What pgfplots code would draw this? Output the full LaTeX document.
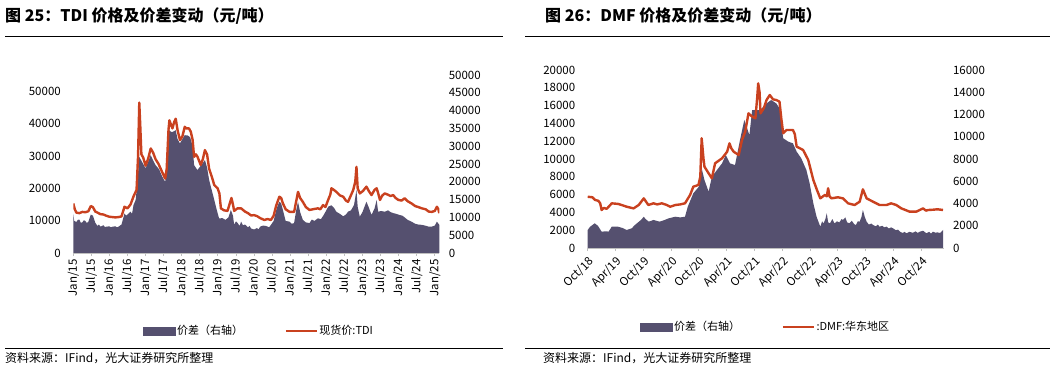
\documentclass[border=0pt]{standalone}
\usepackage{fontspec}
\setmainfont{Noto Sans CJK SC}
\usepackage{pgfplots}
\pgfplotsset{compat=1.18}
\definecolor{areac}{HTML}{55506F}
\definecolor{redc}{HTML}{C9411F}
\definecolor{axgray}{HTML}{BFBFBF}
\newcommand\fs[1]{\fontsize{#1}{#1}\selectfont}
\pgfplotsset{
  base/.style={scale only axis, height=178pt, ymin=0,
    /pgf/number format/assume math mode=true,
    /pgf/number format/1000 sep={}, scaled y ticks=false,
    tick label style={font=\fs{11.5}}, axis line style={-}},
  arealayer/.style={base, axis x line=none, axis y line*=right,
    y axis line style={draw=none}, ytick style={draw=none},
    yticklabel style={xshift=6pt}},
  linelayer/.style={base, axis x line*=bottom, axis y line*=left,
    y axis line style={draw=none}, ytick style={draw=none},
    yticklabel style={xshift=-6pt},
    x axis line style={axgray, line width=1pt},
    xtick style={axgray, line width=0.8pt}, tick align=outside, major tick length=3pt,
    legend columns=2,
    legend style={draw=none, fill=none, inner sep=0pt, font=\fs{11},
      nodes={inner sep=1.5pt}, /tikz/every even column/.append style={column sep=40pt}}},
}
\begin{document}
\begin{tikzpicture}[x=1pt,y=1pt]
\path[use as bounding box] (0pt,0pt) rectangle (1054pt,370pt);
% ---------- left chart frame ----------
\node[anchor=west, font=\fs{16}\bfseries, inner sep=0pt] at (5pt,354pt) {图 25：TDI 价格及价差变动（元/吨）};
\draw[line width=1pt] (5pt,333pt) -- (503pt,333pt);
\draw[line width=1pt] (5pt,21.7pt) -- (503pt,21.7pt);
\node[anchor=west, font=\fs{12}, inner sep=0pt] at (5pt,12pt) {资料来源：IFind，光大证券研究所整理};
% ---------- right chart frame ----------
\node[anchor=west, font=\fs{16}\bfseries, inner sep=0pt] at (545pt,354pt) {图 26：DMF 价格及价差变动（元/吨）};
\draw[line width=1pt] (525pt,333pt) -- (1050pt,333pt);
\draw[line width=1pt] (525pt,21.7pt) -- (1050pt,21.7pt);
\node[anchor=west, font=\fs{12}, inner sep=0pt] at (543pt,12pt) {资料来源：IFind，光大证券研究所整理};

% ---------- TDI spread (right axis) ----------
\begin{axis}[arealayer, at={(73.3pt,117pt)}, anchor=south west, width=366pt,
  xmin=0, xmax=121.5, ymax=50000, ytick={0,5000,...,50000}]
\addplot[fill=areac, draw=none] table {
m v
0 11000
0.3 9000
1 8700
1.5 9300
2 9400
2.5 8500
3 8600
3.5 9200
4 9000
4.5 8400
5 8800
5.8 10800
6.5 10500
7.3 8500
8 7600
8.5 8000
9 7400
10 7800
10.5 7300
11 7400
12 7500
12.5 7200
13 7400
14 7500
14.5 7200
15 7400
16 8000
17 11100
17.5 10500
18 10800
19 11600
19.5 11000
20 13500
20.7 14900
21.3 20000
21.9 27000
22.5 26100
23.2 25000
24 23800
24.8 25500
25.7 27500
26.5 26000
27.3 24700
28.5 23500
29.5 21500
30.5 20000
31.2 25000
31.8 34500
32.5 34000
33 34000
34 34500
34.6 32000
35.4 30800
36.2 32000
37 33100
38 33000
38.8 32500
39.6 30000
40.1 24700
41.2 23300
42.3 24500
43.7 26100
44.4 24000
45.1 20500
46 17500
46.8 14900
47.5 12500
48.4 9700
49.5 9800
50.5 9300
51.5 10000
52.3 12100
53 10500
53.4 7900
54 8900
54.5 8500
55.2 7600
55.7 8800
56.3 7800
57 8000
58 7200
58.5 7600
59 6900
60 6600
61 7000
61.5 6600
62 7400
63 7700
64 7600
65 7200
65.6 7900
66.5 9000
67.5 12500
68.4 14400
69 14000
69.6 12000
70.5 9000
71.8 8800
72.5 8200
73.3 8400
74 12000
74.6 14400
75.3 11500
76.2 9300
77.2 8600
78.4 8400
79.2 9400
80 9000
81.2 9750
82.2 9500
83 10500
84 12000
84.6 13000
85.7 13400
86.7 12500
87.3 11600
88.5 11000
89.6 10300
90.5 10800
91.2 11600
92.2 12000
93.2 13500
94 17700
94.4 13000
95.1 10200
96 11500
97.3 14400
98 13000
99 10700
100 12500
100.7 14900
101.2 11600
102.2 11800
103.4 11600
104.5 12000
105.3 11500
106.2 11200
107.2 11000
108.2 10700
109.2 10500
110 10000
111 9300
112.3 8800
113.5 8200
114.5 8000
115.7 7900
116.8 7700
118 7400
119 7400
120 7700
120.7 8800
121.5 7900
} \closedcycle;
\end{axis}

% ---------- TDI price (left axis) ----------
\begin{axis}[linelayer, at={(73.3pt,117pt)}, anchor=south west, width=366pt,
  xmin=0, xmax=121.5, ymax=55000, ytick={0,10000,...,50000},
  xtick={0,6,...,120},
  xticklabels={Jan/15,Jul/15,Jan/16,Jul/16,Jan/17,Jul/17,Jan/18,Jul/18,Jan/19,Jul/19,Jan/20,Jul/20,Jan/21,Jul/21,Jan/22,Jul/22,Jan/23,Jul/23,Jan/24,Jul/24,Jan/25},
  xticklabel style={rotate=90, anchor=east},
  legend style={at={(0.1904,-0.438)}, anchor=west}]
\addlegendimage{legend image code/.code={\fill[areac] (0pt,-4pt) rectangle (32pt,4pt);}}
\addlegendentry{价差（右轴）}
\addplot[redc, line width=2.4pt, line join=round,
  legend image code/.code={\draw[redc, line width=2.4pt] (0pt,0pt) -- (31pt,0pt);}] table {
m v
0 15300
0.5 13500
1 12500
2 12300
3 12700
4 12600
5 12900
5.8 14500
6.5 14200
7.3 12800
8 12500
9 12000
10 11900
11 11500
12 11200
13 11100
14 11000
15 11100
16 11300
17 14300
18 13800
19 15000
20 17500
21 19500
21.5 30000
21.9 46500
22.2 40000
22.6 30500
23.2 29500
24 27000
24.8 29000
25.7 32300
26.5 31000
27.3 29000
28.3 27500
29.5 25000
30.5 23000
31 26000
31.6 38000
31.9 41000
32.5 39500
32.9 38500
33.5 40500
34 41500
34.6 38000
35.4 34900
36.2 36000
37 39000
37.5 38500
38.4 38500
39 37500
39.6 35000
40.1 29700
40.7 30500
41.2 29800
42.3 27200
43 29000
43.7 31800
44.4 30500
45.1 26000
46 23500
46.8 21000
47.9 20000
48.5 18400
49 13800
50 13200
51.2 13000
52 15500
52.5 17000
53 15000
53.4 13000
54.5 13800
55.7 13800
57 12800
58 12300
59 11600
60 11700
61 11400
62 10800
63.4 10200
64.5 10500
65.6 10200
66.5 11500
67.3 14500
68.4 17400
69 17000
69.6 15300
70.5 13500
71.8 12700
73.3 12700
74 16000
74.6 18900
75.3 17000
76.2 15800
77.2 14200
78.4 13300
80 13600
81.2 13800
82 13500
82.9 14800
83.7 14200
84.6 16400
85.3 18000
85.7 20000
86.5 19500
87.3 18900
88.5 17800
89.6 17400
90.5 16200
91.2 15800
92 17500
92.9 19400
93.6 22000
94 26600
94.4 20000
95.1 18400
96.2 19200
97.3 20500
98.2 19000
99 17900
100 19500
100.7 20000
101.2 18500
101.8 16400
102.6 17800
103.4 18400
104.5 18000
105.3 17600
106.2 17900
107 17000
107.9 16400
109 16200
110 16900
111 16000
112.3 15300
113.5 14500
114.5 14200
115.7 13800
117 13500
118 12800
119 12700
120 13000
120.7 14300
121.2 13500
121.5 12300
};
\addlegendentry{现货价:TDI}
\end{axis}

% ---------- DMF spread (right axis) ----------
\begin{axis}[arealayer, at={(587.7pt,122pt)}, anchor=south west, width=355.8pt,
  xmin=0, xmax=76.8, ymax=16000, ytick={0,2000,...,16000}]
\addplot[fill=areac, draw=none] table {
m v
0 1620
0.5 1900
1.5 2220
2.2 2000
3 1470
4 1500
4.5 1470
5.2 1920
6.5 1920
7.5 1800
8.4 1620
9.5 1770
10.2 2070
11.5 2520
12.1 2810
12.5 2600
13.2 2370
14.2 2520
15.5 2370
16.5 2500
17.5 2670
18.9 2810
20 2750
21 2810
21.6 3710
22.8 4920
24 5510
24.6 7160
25.2 6110
26.1 5060
26.8 6410
27.9 7010
29 7610
29.8 8360
30.7 7610
31.8 7460
32.8 9560
33.8 11510
34.9 10160
35.5 12400
36.5 12400
37.2 12400
38.6 13000
39.6 13300
40.7 13000
41.4 12560
42.2 9860
43.3 9560
44.3 9410
45.1 8660
46.1 8060
47.2 7010
47.9 5820
48.7 4020
49.4 2810
50.2 1920
50.6 2400
50.9 2200
51.3 2600
51.6 3120
51.9 2300
52.3 2220
52.8 2600
53.3 2200
53.8 2400
54.3 2300
54.8 2600
55.1 2520
55.6 2750
56 2300
56.5 2220
57 2450
57.5 2150
57.9 2070
58.3 2400
58.7 2370
59.1 2800
59.4 3420
59.8 2800
60.2 2370
60.7 2100
61.2 2200
61.6 2070
62.2 1950
62.6 2100
63 1920
63.6 2000
64 1850
64.5 1920
65 1750
65.5 1850
65.9 1770
66.5 1600
67 1650
67.4 1470
68 1350
68.4 1450
68.8 1320
69.4 1450
70.2 1370
70.8 1500
71.2 1350
71.7 1470
72.4 1550
73.1 1320
73.7 1450
74.1 1300
74.5 1470
75 1380
75.5 1400
76.1 1350
76.7 1620
} \closedcycle;
\end{axis}

% ---------- DMF price (left axis) ----------
\begin{axis}[linelayer, at={(587.7pt,122pt)}, anchor=south west, width=355.8pt,
  xmin=0, xmax=76.8, ymax=20000, ytick={0,2000,...,20000},
  xtick={0,6,...,72},
  xticklabels={Oct/18,Apr/19,Oct/19,Apr/20,Oct/20,Apr/21,Oct/21,Apr/22,Oct/22,Apr/23,Oct/23,Apr/24,Oct/24},
  xticklabel style={rotate=45, anchor=north east},
  legend style={at={(0.147,-0.444)}, anchor=west}]
\addlegendimage{legend image code/.code={\fill[areac] (0pt,-4pt) rectangle (32pt,4pt);}}
\addlegendentry{价差（右轴）}
\addplot[redc, line width=2.4pt, line join=round,
  legend image code/.code={\draw[redc, line width=2.4pt] (0pt,0pt) -- (31pt,0pt);}] table {
m v
0 5760
1 5700
1.6 5400
2.3 5300
2.7 5020
3 4270
3.5 4500
4.1 4400
5.2 5020
6.6 4950
7.5 4800
8.4 4640
9.9 4450
11 4830
11.7 5300
12.1 5580
12.6 5200
13.1 4830
14.2 5020
15 4900
16 5020
17 4850
17.8 4640
18.9 4830
20 4900
21 5020
22.1 5960
22.8 6890
23.9 7080
24.3 8000
24.6 12330
25 10000
25.2 9140
26.1 8390
26.8 7830
27.5 9520
29 10080
30.1 10820
30.6 11760
31 11200
31.5 10820
32.6 10450
33.3 12130
34 13070
34.7 15130
35.5 14760
36.2 14570
36.6 17000
36.8 18500
37.1 17500
37.3 15130
38 15700
38.6 16630
39.3 17190
40 16700
40.7 16630
41.4 16440
41.8 14500
42.2 12890
42.9 13260
44.3 13260
44.7 12800
45.1 11390
46.5 11010
47.6 9890
48.7 7640
49.5 6500
50.2 5580
51.2 5960
51.6 5800
51.9 6710
52.2 5800
52.6 5580
54 5700
55.1 5580
56.2 5020
57.6 4830
58.7 5200
59.4 6590
60.2 5580
61.6 5200
63 4830
64.5 4830
65.5 5020
66.6 4830
67.7 4450
69.5 4080
70.9 4080
72.4 4450
73 4200
73.5 4270
74.5 4300
75.5 4350
76.7 4270
};
\addlegendentry{:DMF:华东地区}
\end{axis}
\end{tikzpicture}
\end{document}
